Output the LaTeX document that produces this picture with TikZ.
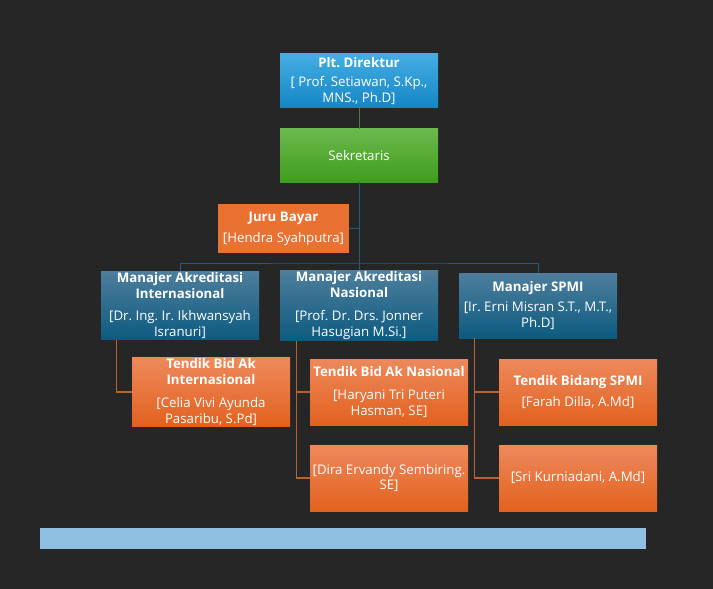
\documentclass[tikz,border=0pt]{standalone}
\usepackage{fontspec}
\setmainfont{Open Sans}
\usetikzlibrary{calc}
\definecolor{bg}{HTML}{262626}
\definecolor{dirtop}{HTML}{45ADE2}
\definecolor{dirbot}{HTML}{1386C6}
\definecolor{sektop}{HTML}{6CB84C}
\definecolor{sekbot}{HTML}{3F9E1E}
\definecolor{jurufill}{HTML}{E97132}
\definecolor{mantop}{HTML}{4E7E9C}
\definecolor{manbot}{HTML}{0D5B80}
\definecolor{tentop}{HTML}{EE895C}
\definecolor{tenbot}{HTML}{E2611E}
\definecolor{barfill}{HTML}{8FBFE1}
\definecolor{bluelink}{HTML}{1D5E80}
\definecolor{greenlink}{HTML}{4C7A3C}
\definecolor{orangelink}{HTML}{B8622F}
\tikzset{
  box/.style={minimum width=158bp, align=center, inner sep=1bp,
    text=white, font=\fontsize{13.3}{16}\selectfont\frenchspacing},
  dirbox/.style={box, minimum height=54bp, top color=dirtop, bottom color=dirbot},
  sekbox/.style={box, minimum height=53bp, top color=sektop, bottom color=sekbot},
  jurubox/.style={box, minimum width=131bp, minimum height=48bp, fill=jurufill},
  manbox/.style={box, minimum height=65bp, top color=mantop, bottom color=manbot},
  tenbox/.style={box, minimum height=66bp, top color=tentop, bottom color=tenbot},
  bluel/.style={draw=bluelink, line width=1bp},
  orangel/.style={draw=orangelink, line width=1.3bp},
}
\begin{document}
\begin{tikzpicture}[x=1bp,y=-1bp]
\fill[bg] (0,0) rectangle (713,589);
\useasboundingbox (0,0) rectangle (713,589);

\node[dirbox] (dir) at (359,81) {\textbf{Plt. Direktur}\\[4pt]{[} Prof. Setiawan, S.Kp.,\\MNS., Ph.D{]}};
\node[sekbox] (sek) at (359,155.5) {Sekretaris};
\node[jurubox] (juru) at (283.5,228.5) {\textbf{Juru Bayar}\\[5pt]{[}Hendra Syahputra{]}};

\node[manbox] (mai) at (180,305.5) {\textbf{Manajer Akreditasi}\\\textbf{Internasional}\\[7pt]{[}Dr. Ing. Ir. Ikhwansyah\\Isranuri{]}};
\node[manbox] (man) at (359,305.5) {\textbf{Manajer Akreditasi}\\\textbf{Nasional}\\[7pt]{[}Prof. Dr. Drs. Jonner\\Hasugian M.Si.{]}};
\node[manbox] (msp) at (538,305.5) {\textbf{Manajer SPMI}\\[5pt]{[}Ir. Erni Misran S.T., M.T.,\\Ph.D{]}};

\node[tenbox] (tbi) at (211,392) {\textbf{Tendik Bid Ak}\\\textbf{Internasional}\\[7pt]{[}Celia Vivi Ayunda\\Pasaribu, S.Pd{]}};
\node[tenbox] (tbn) at (389,392) {\textbf{Tendik Bid Ak Nasional}\\[7pt]{[}Haryani Tri Puteri\\Hasman, SE{]}};
\node[tenbox] (dira) at (389,478) {{[}Dira Ervandy Sembiring.\\SE{]}};
\node[tenbox] (tbs) at (578,392) {\textbf{Tendik Bidang SPMI}\\[5pt]{[}Farah Dilla, A.Md{]}};
\node[tenbox] (sri) at (578,478) {{[}Sri Kurniadani, A.Md{]}};

\fill[barfill] (40,528) rectangle (646,549);

% connectors
\draw[draw=greenlink, line width=1bp] (dir.south) -- (sek.north);
\coordinate (hub) at (359,263);
\draw[bluel] (sek.south) -- (man.north);
\draw[bluel] (mai.north) |- (hub) -| (msp.north);
\draw[bluel] (juru.east) -- (juru.east -| sek.south);

\coordinate (cmai) at ($(mai.south west)+(16,0)$);
\coordinate (cman) at ($(man.south west)+(17,0)$);
\coordinate (cmsp) at ($(msp.south west)+(16,0)$);
\draw[orangel] (cmai) |- (tbi.west);
\draw[orangel] (cman) |- (tbn.west);
\draw[orangel] (cman) |- (dira.west);
\draw[orangel] (cmsp) |- (tbs.west);
\draw[orangel] (cmsp) |- (sri.west);
\end{tikzpicture}
\end{document}
